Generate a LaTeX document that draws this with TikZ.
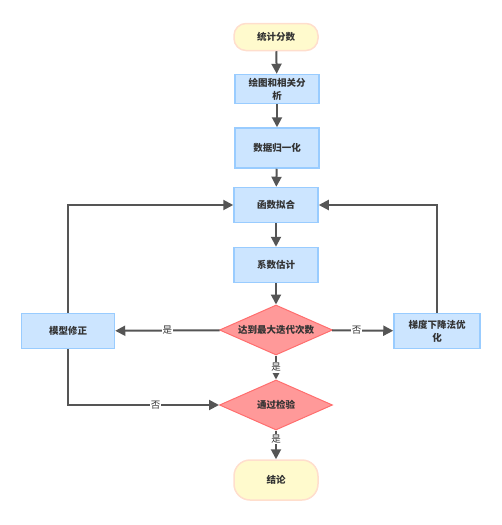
\documentclass[tikz,border=0pt]{standalone}
\usepackage{fontspec}
\newfontfamily\cjk{Noto Sans CJK SC}
\definecolor{fcblue}{RGB}{204,229,255}
\definecolor{fcbluedraw}{RGB}{153,204,255}
\definecolor{fcred}{RGB}{255,153,153}
\definecolor{fcreddraw}{RGB}{255,110,110}
\definecolor{fcyellow}{RGB}{255,250,205}
\definecolor{fcyellowdraw}{RGB}{255,222,205}
\definecolor{fcline}{RGB}{85,85,85}
\definecolor{fctext}{RGB}{51,51,51}
\usetikzlibrary{arrows.meta,positioning,shapes.geometric}

\begin{document}
\begin{tikzpicture}[x=1pt, y=-1pt,
  every node/.style={font=\cjk\bfseries\fontsize{9.5}{13}\selectfont, text=fctext, align=center},
  procbox/.style={draw=fcbluedraw, fill=fcblue, line width=1.5pt, minimum width=84, minimum height=35, inner sep=2pt},
  termbox/.style={draw=fcyellowdraw, fill=fcyellow, line width=1.5pt, rounded corners=12pt, minimum width=84, minimum height=27},
  decision/.style={diamond, draw=fcreddraw, fill=fcred, line width=1pt, aspect=2.26, minimum width=113, minimum height=50, inner sep=0pt},
  flow/.style={draw=fcline, line width=2pt, -{Triangle[length=10pt,width=10pt]}},
  yesno/.style={fill=white, inner sep=1pt, font=\cjk\fontsize{9.5}{11}\selectfont}]
  \useasboundingbox (0,0) rectangle (502,525);

  % main column
  \node[termbox] (score) at (276,37) {统计分数};
  \node[procbox, minimum height=29] (plot) at (277,89) {绘图和相关分\\析};
  \node[procbox, minimum height=40] (norm) at (277,148) {数据归一化};
  \node[procbox] (fit) at (276,205) {函数拟合};
  \node[procbox] (coef) at (276,265) {系数估计};
  \node[decision] (iter) at (276,330) {达到最大迭代次数};
  \node[decision] (test) at (276,405) {通过检验};
  \node[termbox, minimum height=40, rounded corners=16pt] (concl) at (276,480) {结论};

  % side boxes
  \node[procbox, minimum width=93] (fix) at (68,331) {模型修正};
  \node[procbox, minimum width=86] (grad) at (437,331) {梯度下降法优\\化};

  \draw[flow] (score) -- (plot);
  \draw[flow] (plot) -- (norm);
  \draw[flow] (norm) -- (fit);
  \draw[flow] (fit) -- (coef);
  \draw[flow] (coef) -- (iter);
  \draw[flow] (iter) -- node[yesno] {是} (fix);
  \draw[flow] (iter) -- node[yesno, pos=0.4] {否} (grad);
  \draw[flow] (iter) -- node[yesno] {是} (test);
  \draw[flow] (test) -- node[yesno, pos=0.3] {是} (concl);

  % loops back
  \draw[flow] (fix.north) |- (fit.west);
  \draw[flow] (grad.north) |- (fit.east);
  \draw[flow] (fix.south) |- node[yesno, pos=0.79] {否} (test.west);
\end{tikzpicture}
\end{document}
